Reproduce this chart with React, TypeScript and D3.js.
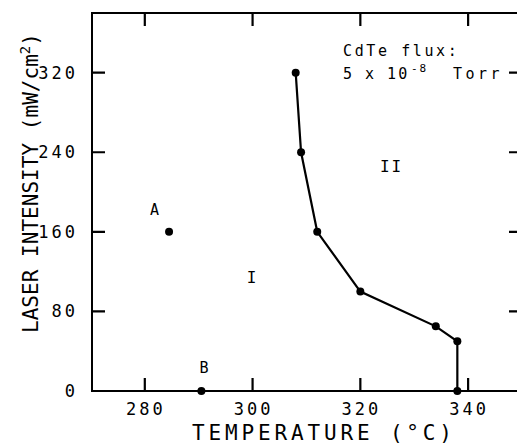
import { useRef, useEffect } from "react";
import * as d3 from "d3";

// phase boundary (I / II)
const boundaryTemp = [308, 309, 312, 320, 334, 338, 338];
const boundaryIntensity = [320, 240, 160, 100, 65, 50, 0];

// single experiments
const pointLabels = ["A", "B"];
const pointTemp = [284.5, 290.5];
const pointIntensity = [160, 0];
const pointLabelTemp = [281.8, 291];
const pointLabelIntensity = [182, 23];

const regionLabels = ["I", "II"];
const regionTemp = [300, 325.8];
const regionIntensity = [114, 226];

const xTicks = [280, 300, 320, 340];
const yTicks = [0, 80, 160, 240, 320];

const FONT = "'DejaVu Sans Mono', monospace";

function App() {
  const svgRef = useRef<SVGSVGElement>(null);

  useEffect(() => {
    const w = 517;
    const h = 444;
    const svg = d3.select(svgRef.current!).attr("width", w).attr("height", h);
    svg.selectAll("*").remove();

    const x = d3.scaleLinear().domain([270.2, 350]).range([92, 522]);
    const y = d3.scaleLinear().domain([0, 380]).range([391, 13]);
    const [x0, x1] = x.domain();
    const [y0, y1] = y.domain();
    const tick = 13;

    // frame
    svg
      .append("rect")
      .attr("x", x(x0))
      .attr("y", y(y1))
      .attr("width", x(x1) - x(x0))
      .attr("height", y(y0) - y(y1))
      .attr("fill", "none")
      .attr("stroke", "#000")
      .attr("stroke-width", 2);

    // inward ticks on all four sides, as one path
    const tickPath =
      xTicks.map((d) => `M${x(d)},${y(y0)}v${-tick}`).join("") +
      xTicks.map((d) => `M${x(d)},${y(y1)}v${tick}`).join("") +
      yTicks.slice(1).map((d) => `M${x(x0)},${y(d)}h${tick}`).join("") +
      yTicks.slice(1).map((d) => `M${x(x1)},${y(d)}h${-tick}`).join("");
    svg
      .append("path")
      .attr("d", tickPath)
      .attr("fill", "none")
      .attr("stroke", "#000")
      .attr("stroke-width", 2.2);

    // tick labels
    svg
      .selectAll(".xl")
      .data(xTicks)
      .join("text")
      .attr("x", (d) => x(d) + 1)
      .attr("y", y(y0) + 24)
      .attr("text-anchor", "middle")
      .attr("font-family", FONT)
      .attr("font-size", 17)
      .attr("letter-spacing", 3)
      .text((d) => d);
    svg
      .selectAll(".yl")
      .data(yTicks)
      .join("text")
      .attr("x", x(x0) - 14)
      .attr("y", (d) => y(d))
      .attr("dy", "0.35em")
      .attr("text-anchor", "end")
      .attr("font-family", FONT)
      .attr("font-size", 17)
      .attr("letter-spacing", 3)
      .text((d) => d);

    // axis titles
    svg
      .append("text")
      .attr("x", 322)
      .attr("y", 440)
      .attr("text-anchor", "middle")
      .attr("font-family", FONT)
      .attr("font-size", 21)
      .attr("textLength", 260)
      .attr("lengthAdjust", "spacing")
      .text("TEMPERATURE (°C)");

    const yt = svg
      .append("text")
      .attr("transform", "translate(38, 183) rotate(-90)")
      .attr("text-anchor", "middle")
      .attr("font-family", FONT)
      .attr("font-size", 21)
      .attr("textLength", 300)
      .attr("lengthAdjust", "spacing");
    yt.append("tspan").text("LASER INTENSITY (mW/cm");
    yt.append("tspan").attr("dy", -8).attr("font-size", 14).text("2");
    yt.append("tspan").attr("dy", 8).text(")");

    // boundary line
    const line = d3
      .line<number>()
      .x((d) => x(boundaryTemp[d]))
      .y((d) => y(boundaryIntensity[d]));
    svg
      .append("path")
      .attr("d", line(d3.range(boundaryTemp.length)))
      .attr("fill", "none")
      .attr("stroke", "#000")
      .attr("stroke-width", 2.2);
    svg
      .selectAll(".bp")
      .data(d3.range(boundaryTemp.length))
      .join("circle")
      .attr("cx", (i) => x(boundaryTemp[i]))
      .attr("cy", (i) => y(boundaryIntensity[i]))
      .attr("r", 4)
      .attr("fill", "#000");

    // A, B points
    svg
      .selectAll(".pt")
      .data(pointLabels)
      .join("circle")
      .attr("cx", (_, i) => x(pointTemp[i]))
      .attr("cy", (_, i) => y(pointIntensity[i]))
      .attr("r", 4)
      .attr("fill", "#000");
    svg
      .selectAll(".ptl")
      .data(pointLabels)
      .join("text")
      .attr("x", (_, i) => x(pointLabelTemp[i]))
      .attr("y", (_, i) => y(pointLabelIntensity[i]))
      .attr("dy", "0.35em")
      .attr("text-anchor", "middle")
      .attr("font-family", FONT)
      .attr("font-size", 15)
      .text((d) => d);

    // region labels
    svg
      .selectAll(".rl")
      .data(regionLabels)
      .join("text")
      .attr("x", (_, i) => x(regionTemp[i]))
      .attr("y", (_, i) => y(regionIntensity[i]))
      .attr("dy", "0.35em")
      .attr("text-anchor", "middle")
      .attr("font-family", FONT)
      .attr("font-size", 16)
      .attr("letter-spacing", 2)
      .text((d) => d);

    // flux note
    svg
      .append("text")
      .attr("x", 343)
      .attr("y", 56)
      .attr("font-family", FONT)
      .attr("font-size", 15)
      .attr("letter-spacing", 2.6)
      .text("CdTe flux:");
    const note = svg
      .append("text")
      .attr("y", 79)
      .attr("font-family", FONT)
      .attr("font-size", 15)
      .attr("letter-spacing", 2);
    note.append("tspan").attr("x", 343).text("5 x 10");
    note.append("tspan").attr("x", 411).attr("dy", -7).attr("font-size", 11).text("-8");
    note.append("tspan").attr("x", 453).attr("dy", 7).attr("letter-spacing", 3.5).text("Torr");
  }, []);

  return (
    <svg
      ref={svgRef}
      style={{ position: "absolute", left: 0, top: 0, background: "#fff" }}
    ></svg>
  );
}

export default App;
